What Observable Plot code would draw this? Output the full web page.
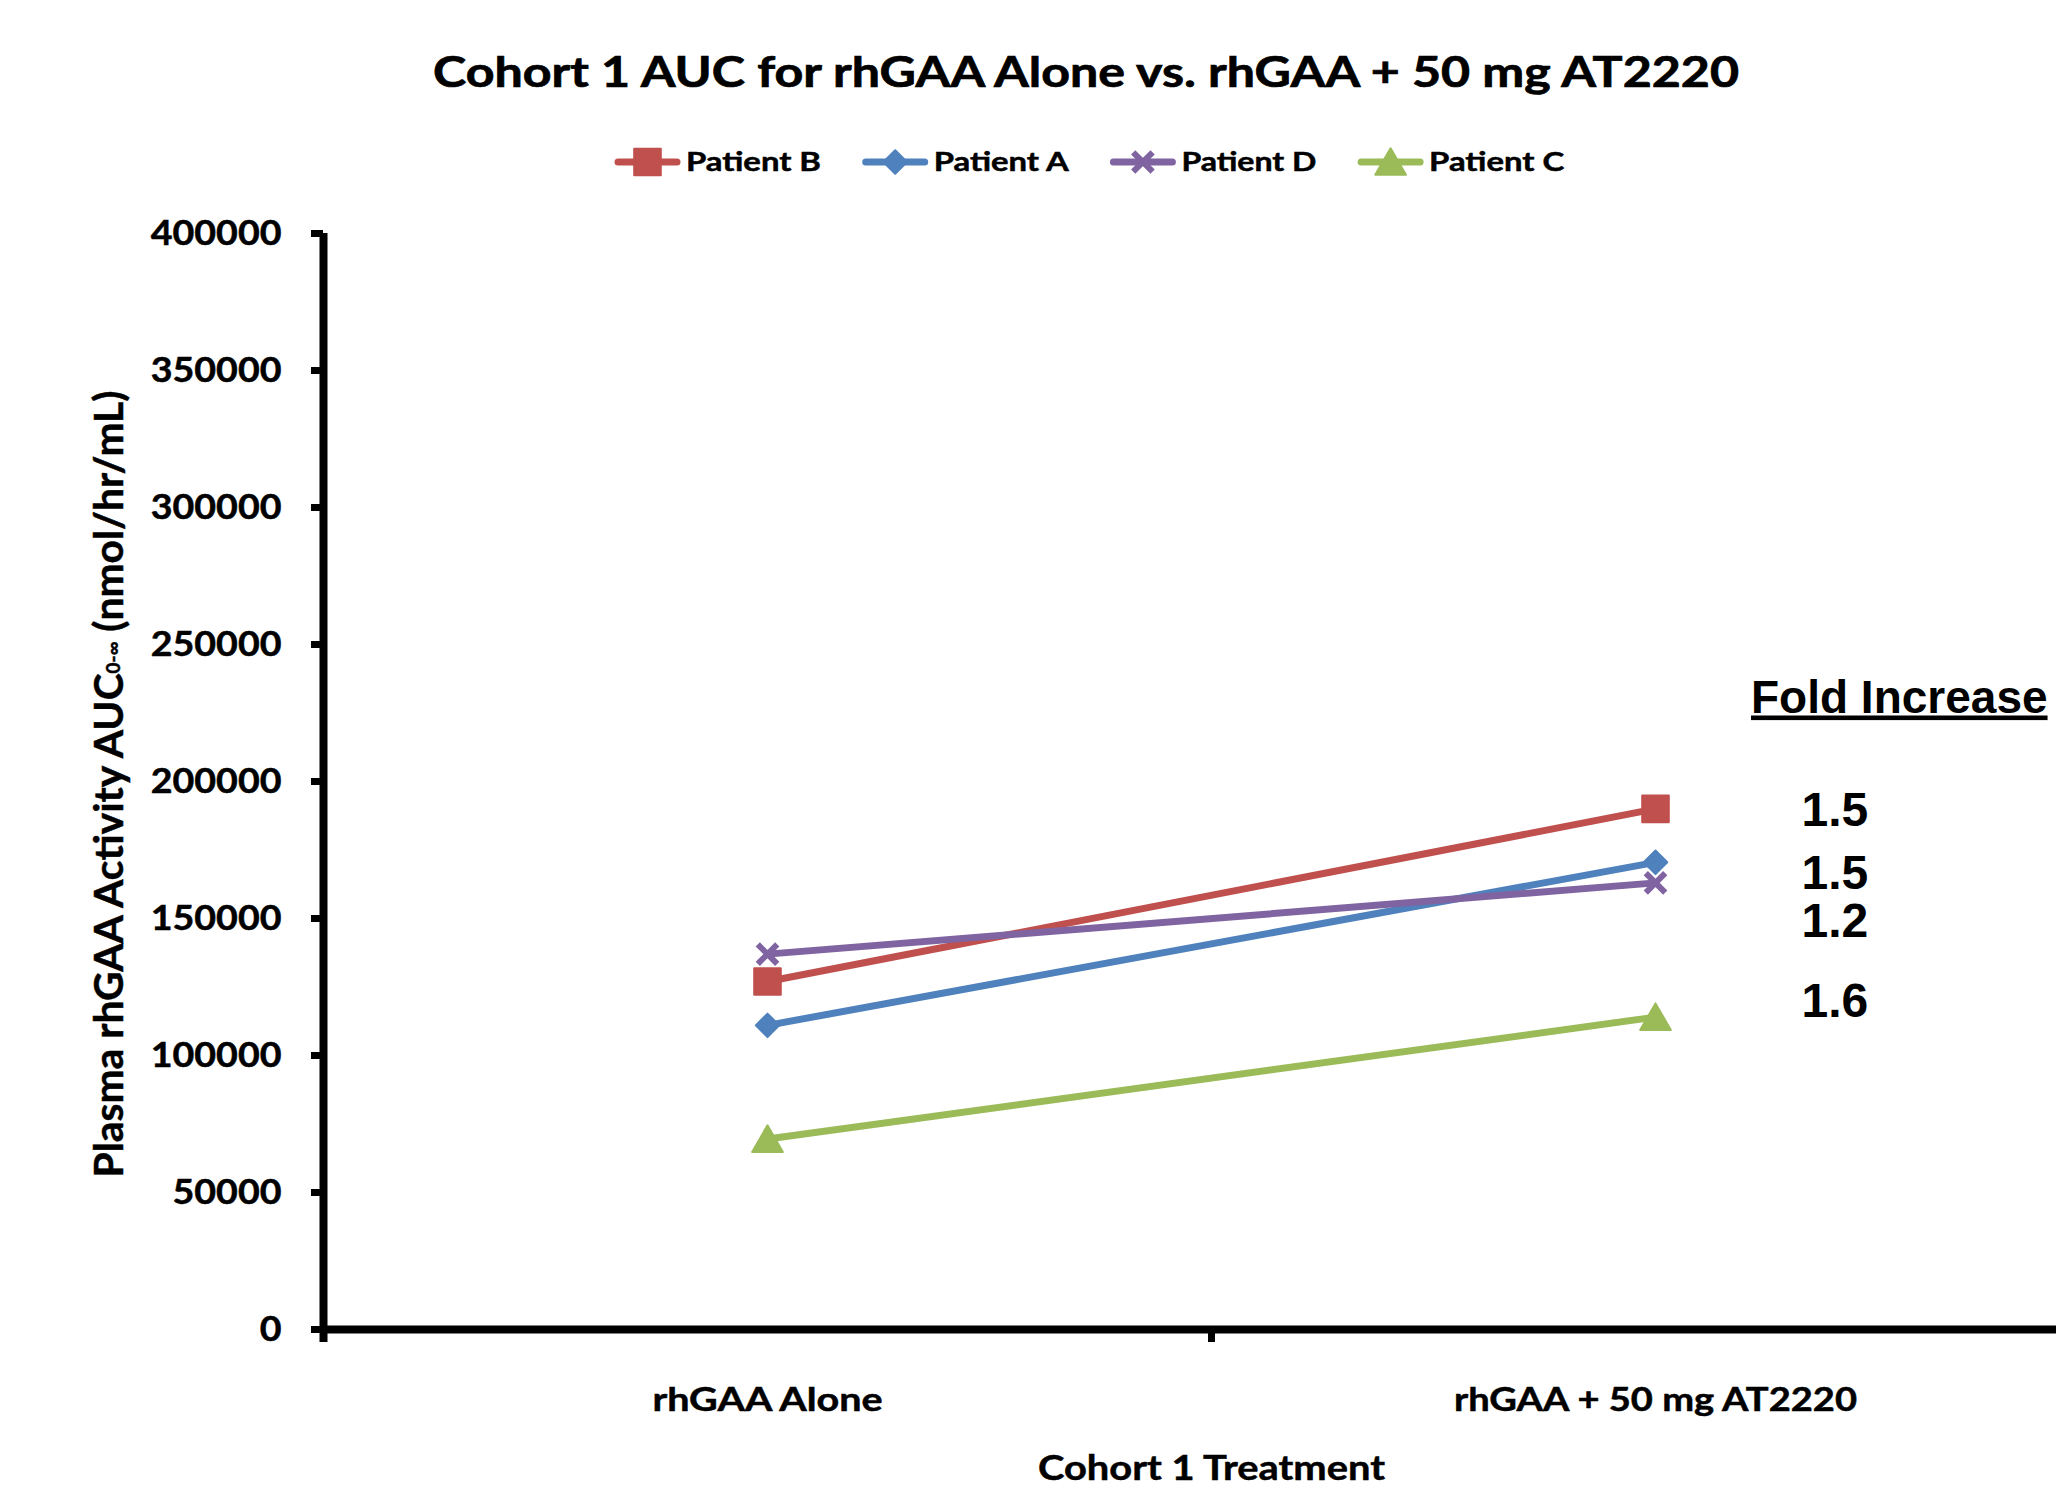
<!DOCTYPE html>
<html>
<head>
<meta charset="utf-8">
<script src="https://cdn.jsdelivr.net/npm/d3@7"></script>
<script src="https://cdn.jsdelivr.net/npm/@observablehq/plot@0.6"></script>
<style>
  html, body { margin: 0; padding: 0; background: #fff; }
  #chart { width: 2056px; height: 1486px; overflow: hidden; position: relative; background: #fff; }
  #chart svg { display: block; }
</style>
</head>
<body>
<div id="chart"></div>
<script>
// ---- data ----
const categories = ["rhGAA Alone", "rhGAA + 50 mg AT2220"];
const patients = ["Patient B", "Patient A", "Patient D", "Patient C"];
const aloneValues = [127000, 111000, 137000, 69500];
const combinedValues = [190000, 170500, 163000, 114000];
const foldLabels = ["1.5", "1.5", "1.2", "1.6"];
const yTicks = [0, 50000, 100000, 150000, 200000, 250000, 300000, 350000, 400000];
const patientColors = ["#C0504D", "#4F81BD", "#8064A2", "#9BBB59"];
const patientSymbols = ["square", "diamond2", "times", "triangle"];

const titleText = "Cohort 1 AUC for rhGAA Alone vs. rhGAA + 50 mg AT2220";
const xTitle = "Cohort 1 Treatment";
const foldTitle = "Fold Increase";

const rows = patients.flatMap((p, i) => [
  {patient: p, step: 0, value: aloneValues[i]},
  {patient: p, step: 1, value: combinedValues[i]}
]);

// ---- styles / layout ----
const CAL = "Lato, 'Open Sans', sans-serif";
const ARIAL = "'Liberation Sans', Arial, sans-serif";
const HEAVY = 0.7; // extra stroke to mimic heavier Calibri Bold
const markerStyle = {
  square:   {r: 15,   filled: true, dy: 0},
  diamond2: {r: 10.6, filled: true, dy: 0},
  times:    {r: 8.9,  filled: false, dy: 0},
  triangle: {r: 11.4, filled: true, dy: 4}
};
const d3Symbols = {square: d3.symbolSquare, diamond2: d3.symbolDiamond2, times: d3.symbolTimes, triangle: d3.symbolTriangle};
const foldNudge = [16.6, 26.2, 54, 0];
const headerH = 190;

// ---- header (title + legend) ----
const header = d3.create("svg").attr("width", 2056).attr("height", headerH);
header.append("text")
  .attr("x", 1086).attr("y", 87)
  .attr("text-anchor", "middle")
  .attr("font-family", CAL).attr("font-weight", 700).attr("font-size", 42)
  .attr("stroke", "black").attr("stroke-width", HEAVY)
  .attr("textLength", 1306).attr("lengthAdjust", "spacingAndGlyphs")
  .text(titleText);

const legendLeft = 615, legendStep = 247.7, legendY = 162;
patients.forEach((p, i) => {
  const x0 = legendLeft + i * legendStep;
  const g = header.append("g");
  g.append("line")
    .attr("x1", x0 + 3).attr("x2", x0 + 62)
    .attr("y1", legendY).attr("y2", legendY)
    .attr("stroke", patientColors[i]).attr("stroke-width", 7).attr("stroke-linecap", "round");
  const ms = markerStyle[patientSymbols[i]];
  const path = d3.symbol(d3Symbols[patientSymbols[i]], Math.PI * ms.r * ms.r)();
  const m = g.append("path").attr("d", path)
    .attr("transform", `translate(${x0 + 32.5},${legendY + ms.dy})`);
  if (ms.filled) {
    m.attr("fill", patientColors[i]).attr("stroke", patientColors[i]).attr("stroke-width", 2).attr("stroke-linejoin", "round");
  } else {
    m.attr("fill", "none").attr("stroke", patientColors[i]).attr("stroke-width", 6);
  }
  g.append("text")
    .attr("x", x0 + 71).attr("y", 171)
    .attr("font-family", CAL).attr("font-weight", 700).attr("font-size", 26)
    .attr("stroke", "black").attr("stroke-width", HEAVY * 0.7)
    .attr("textLength", 135).attr("lengthAdjust", "spacingAndGlyphs")
    .text(p);
});

// ---- plot ----
const seriesMarks = patients.flatMap((p, i) => {
  const data = rows.filter(d => d.patient === p);
  const ms = markerStyle[patientSymbols[i]];
  const dot = ms.filled
    ? Plot.dot(data, {x: "step", y: "value", symbol: () => patientSymbols[i], r: ms.r, dy: ms.dy,
        fill: "patient", stroke: "patient", strokeWidth: 2, strokeLinejoin: "round"})
    : Plot.dot(data, {x: "step", y: "value", symbol: () => patientSymbols[i], r: ms.r,
        stroke: "patient", strokeWidth: 6, fill: "none"});
  return [
    Plot.line(data, {x: "step", y: "value", stroke: "patient", strokeWidth: 7}),
    dot
  ];
});

const foldMarks = patients.map((p, i) =>
  Plot.text([i], {
    x: () => categories.length - 1,
    y: j => combinedValues[j],
    text: j => foldLabels[j],
    dx: 146, dy: foldNudge[i],
    textAnchor: "start", lineAnchor: "bottom",
    fontFamily: ARIAL, fontWeight: "bold", fontSize: 48, fill: "black"
  })
);

const chart = Plot.plot({
  width: 2056,
  height: 1486 - headerH,
  marginLeft: 323, marginRight: 0, marginTop: 43, marginBottom: 157,
  style: {background: "white", color: "black", overflow: "hidden"},
  x: {type: "linear", domain: [-0.5, categories.length - 0.5], range: [323, 2099], axis: null},
  y: {domain: [yTicks[0], yTicks[yTicks.length - 1]], axis: null},
  color: {domain: patients, range: patientColors},
  marks: [
    Plot.axisY(yTicks, {
      tickSize: 12, tickPadding: 30, strokeWidth: 7,
      tickFormat: d => String(d), label: null,
      fontFamily: CAL, fontWeight: "bold", fontSize: 35
    }),
    Plot.axisX([-0.5, 0.5, 1.5], {tickSize: 13, strokeWidth: 7, tickFormat: () => "", label: null}),
    Plot.axisX(categories.map((c, i) => i), {
      tickSize: 0, tickPadding: 59, tickFormat: i => categories[i], label: null,
      fontFamily: CAL, fontWeight: "bold", fontSize: 32
    }),
    Plot.ruleX([-0.5], {strokeWidth: 8, insetBottom: -13, stroke: "black"}),
    Plot.ruleY([0], {strokeWidth: 8, stroke: "black"}),
    ...seriesMarks,
    Plot.text([xTitle], {
      x: () => (categories.length - 1) / 2, frameAnchor: "bottom", dy: 150,
      text: d => d, lineAnchor: "bottom",
      fontFamily: CAL, fontWeight: "bold", fontSize: 35, fill: "black"
    }),
    Plot.text([foldTitle], {
      x: () => categories.length - 1, y: () => d3.max(combinedValues),
      text: d => d, dx: 95.5, dy: -96.4, textAnchor: "start", lineAnchor: "bottom",
      fontFamily: ARIAL, fontWeight: "bold", fontSize: 46, fill: "black"
    }),
    ...foldMarks
  ]
});

const root = document.getElementById("chart");
root.append(header.node(), chart);

// stretch Calibri-like labels horizontally to match reference widths
const widthTargets = new Map([[categories[0], 230], [categories[1], 403], [xTitle, 347]]);
yTicks.forEach(v => widthTargets.set(String(v), 21.8 * String(v).length));
d3.select(chart).selectAll("text").each(function () {
  const t = this.textContent;
  if (widthTargets.has(t)) {
    this.setAttribute("textLength", widthTargets.get(t));
    this.setAttribute("lengthAdjust", "spacingAndGlyphs");
    this.setAttribute("stroke", "black");
    this.setAttribute("stroke-width", HEAVY * 0.7);
  }
  if (t === foldTitle) this.style.textDecoration = "underline";
});

// y-axis title with subscript
const yl = d3.select(chart).append("text")
  .attr("transform", `translate(123, ${784 - headerH}) rotate(-90)`)
  .attr("text-anchor", "middle")
  .attr("font-family", CAL).attr("font-weight", 700).attr("font-size", 41)
  .attr("fill", "black").attr("stroke", "black").attr("stroke-width", HEAVY * 0.7)
  .attr("textLength", 787).attr("lengthAdjust", "spacingAndGlyphs");
yl.append("tspan").text("Plasma rhGAA Activity AUC");
yl.append("tspan").attr("font-size", 19).attr("dy", -3).text("0-\u221E");
yl.append("tspan").attr("dy", 3).text(" (nmol/hr/mL)");
</script>
</body>
</html>
